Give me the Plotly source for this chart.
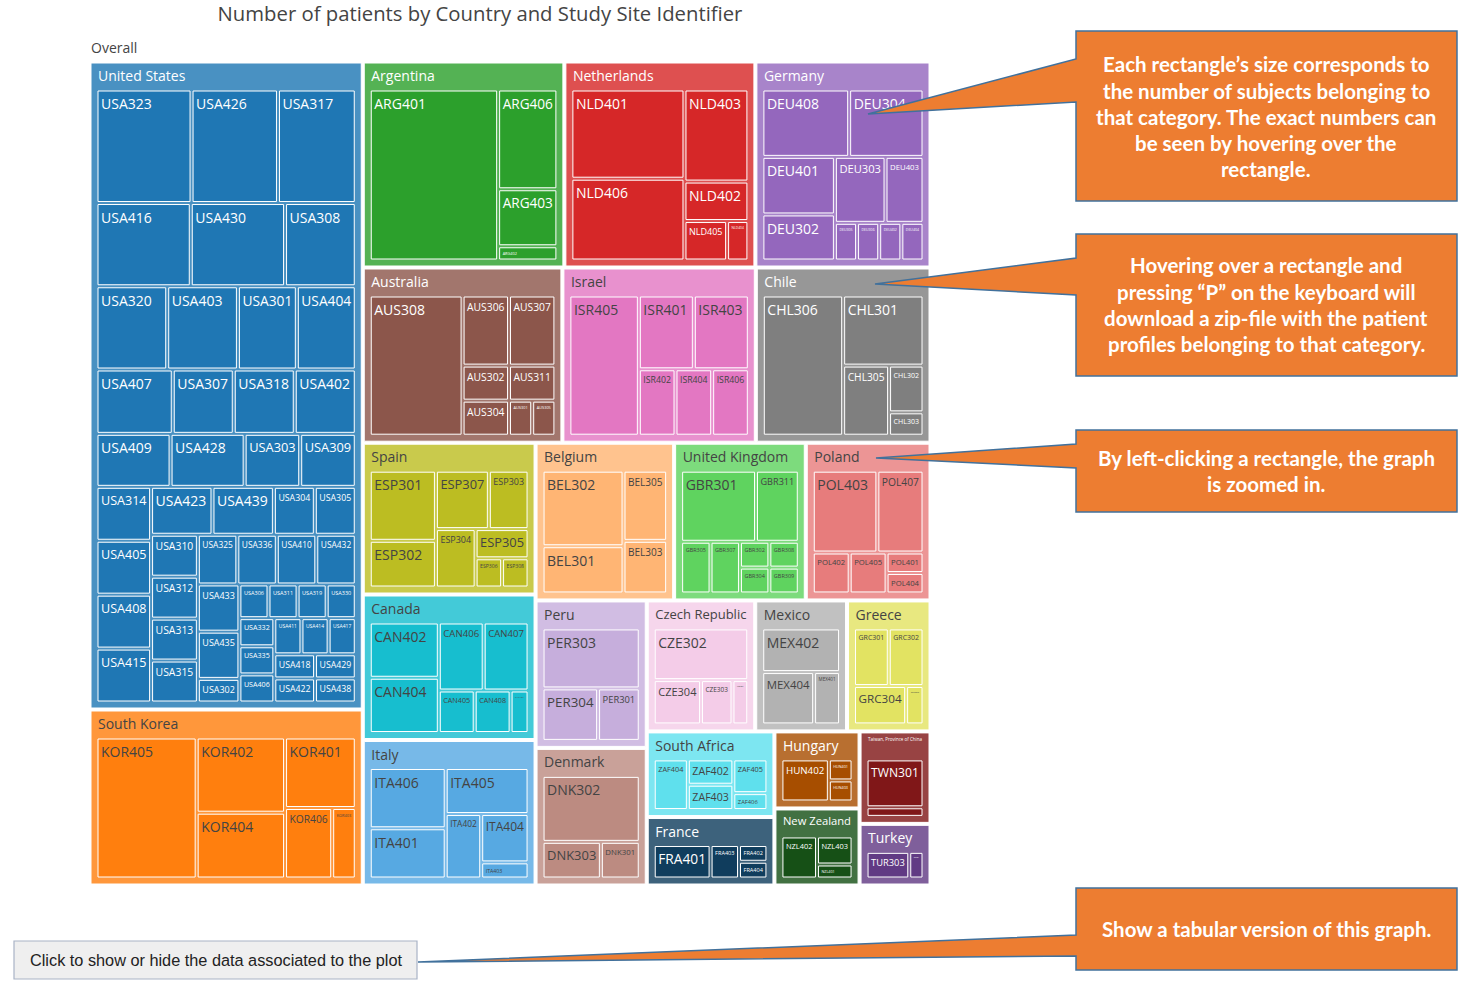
import plotly.graph_objects as go

# ---------------- data ----------------
root_label = "Overall"
countries = ["United States", "South Korea", "Argentina", "Netherlands", "Germany",
             "Australia", "Israel", "Chile", "Spain", "Canada", "Italy", "Belgium",
             "United Kingdom", "Poland", "Peru", "Denmark", "Czech Republic", "Mexico",
             "Greece", "South Africa", "France", "Hungary", "New Zealand",
             "Taiwan, Province of China", "Turkey"]

usa_sites = ["USA323", "USA426", "USA317", "USA416", "USA430", "USA308", "USA320", "USA403",
             "USA301", "USA404", "USA407", "USA307", "USA318", "USA402", "USA409", "USA428",
             "USA303", "USA309", "USA314", "USA405", "USA408", "USA415", "USA423", "USA439",
             "USA304", "USA305", "USA310", "USA312", "USA313", "USA315", "USA325", "USA336",
             "USA410", "USA432", "USA433", "USA435", "USA302", "USA306", "USA311", "USA319",
             "USA330", "USA332", "USA335", "USA406", "USA411", "USA414", "USA417", "USA418",
             "USA422", "USA429", "USA438"]
usa_n = [11, 10, 9, 8, 8, 6, 6, 6, 5, 5, 5, 4, 4, 4, 4, 4, 3, 3, 3, 3, 3, 3, 3, 3,
         2, 2, 2, 2, 2, 2, 2, 2, 2, 2, 2, 2, 1, 1, 1, 1, 1, 1, 1, 1, 1, 1, 1, 1, 1, 1, 1]
kor_sites = ["KOR405", "KOR402", "KOR404", "KOR401", "KOR406", "KOR403"]
kor_n = [17, 8, 7, 6, 4, 2]
arg_sites = ["ARG401", "ARG406", "ARG403", "ARG402"]
arg_n = [26, 7, 4, 1]
nld_sites = ["NLD401", "NLD406", "NLD403", "NLD402", "NLD405", "NLD404"]
nld_n = [12, 11, 7, 3, 2, 1]
deu_sites = ["DEU408", "DEU304", "DEU401", "DEU302", "DEU303", "DEU403",
             "DEU305", "DEU306", "DEU402", "DEU404"]
deu_n = [7, 6, 5, 4, 4, 3, 1, 1, 1, 1]
aus_sites = ["AUS308", "AUS306", "AUS307", "AUS302", "AUS304", "AUS311", "AUS301", "AUS305"]
aus_n = [16, 4, 4, 2, 2, 2, 1, 1]
isr_sites = ["ISR405", "ISR401", "ISR403", "ISR402", "ISR404", "ISR406"]
isr_n = [12, 5, 5, 3, 3, 3]
chl_sites = ["CHL306", "CHL301", "CHL305", "CHL302", "CHL303"]
chl_n = [14, 7, 4, 2, 1]
esp_sites = ["ESP301", "ESP302", "ESP307", "ESP303", "ESP304", "ESP305", "ESP306", "ESP308"]
esp_n = [6, 4, 4, 3, 3, 2, 1, 1]
can_sites = ["CAN402", "CAN404", "CAN406", "CAN407", "CAN405", "CAN408", "CAN401"]
can_n = [5, 5, 4, 4, 2, 2, 1]
ita_sites = ["ITA406", "ITA401", "ITA405", "ITA402", "ITA404", "ITA403"]
ita_n = [6, 5, 5, 3, 3, 1]
bel_sites = ["BEL302", "BEL301", "BEL305", "BEL303"]
bel_n = [8, 5, 4, 3]
gbr_sites = ["GBR301", "GBR311", "GBR305", "GBR307", "GBR302", "GBR304", "GBR308", "GBR309"]
gbr_n = [7, 4, 2, 2, 1, 1, 1, 1]
pol_sites = ["POL403", "POL407", "POL402", "POL405", "POL401", "POL404"]
pol_n = [7, 5, 2, 2, 1, 1]
per_sites = ["PER303", "PER304", "PER301"]
per_n = [8, 4, 3]
dnk_sites = ["DNK302", "DNK303", "DNK301"]
dnk_n = [9, 3, 2]
cze_sites = ["CZE302", "CZE304", "CZE303", "CZE301"]
cze_n = [7, 3, 2, 1]
mex_sites = ["MEX402", "MEX404", "MEX401"]
mex_n = [5, 4, 2]
grc_sites = ["GRC301", "GRC302", "GRC304", "GRC303"]
grc_n = [3, 3, 3, 1]
zaf_sites = ["ZAF404", "ZAF402", "ZAF403", "ZAF405", "ZAF406"]
zaf_n = [3, 2, 2, 2, 1]
fra_sites = ["FRA401", "FRA403", "FRA402", "FRA404"]
fra_n = [4, 2, 1, 1]
hun_sites = ["HUN402", "HUN401", "HUN403"]
hun_n = [4, 1, 1]
nzl_sites = ["NZL402", "NZL403", "NZL401"]
nzl_n = [3, 2, 1]
twn_sites = ["TWN301", "TWN304"]
twn_n = [5, 1]
tur_sites = ["TUR303", "TUR301"]
tur_n = [3, 1]

site_lists = [usa_sites, kor_sites, arg_sites, nld_sites, deu_sites, aus_sites, isr_sites,
              chl_sites, esp_sites, can_sites, ita_sites, bel_sites, gbr_sites, pol_sites,
              per_sites, dnk_sites, cze_sites, mex_sites, grc_sites, zaf_sites, fra_sites,
              hun_sites, nzl_sites, twn_sites, tur_sites]
count_lists = [usa_n, kor_n, arg_n, nld_n, deu_n, aus_n, isr_n, chl_n, esp_n, can_n, ita_n,
               bel_n, gbr_n, pol_n, per_n, dnk_n, cze_n, mex_n, grc_n, zaf_n, fra_n, hun_n,
               nzl_n, twn_n, tur_n]

labels, parents, values = [root_label], [""], [0]
for c, sites, ns in zip(countries, site_lists, count_lists):
    labels.append(c); parents.append(root_label); values.append(0)
    for s, n in zip(sites, ns):
        labels.append(s); parents.append(c); values.append(n)

# ---------------- figure ----------------
W, H = 1458, 993
ML, MT = 84, 35
PW, PH = 852, 856
MR, MB = W - ML - PW, H - MT - PH


def px(x):
    return (x - ML) / PW


def py(y):
    return 1 - (y - MT) / PH


D3 = ["#1f77b4", "#ff7f0e", "#2ca02c", "#d62728", "#9467bd",
      "#8c564b", "#e377c2", "#7f7f7f", "#bcbd22", "#17becf"]

fig = go.Figure(go.Treemap(
    labels=labels, parents=parents, values=values,
    branchvalues="remainder", sort=True,
    pathbar=dict(visible=False),
))

ORANGE = "#ed7d31"
BLUE = "#41719c"


def callout(x0, y0, x1, y1, wt, wb, tx, ty):
    pts = [(x0, y0), (x1, y0), (x1, y1), (x0, y1), (x0, wb), (tx, ty), (x0, wt)]
    d = "M " + " L ".join(f"{px(a):.5f},{py(b):.5f}" for a, b in pts) + " Z"
    return dict(type="path", xref="paper", yref="paper", path=d,
                fillcolor=ORANGE, line=dict(color=BLUE, width=1.5), layer="above")


shapes = [
    callout(1076, 31, 1457, 201, 59, 102, 868, 114),
    callout(1076, 234, 1457, 376, 258, 295, 875, 284),
    callout(1076, 430, 1457, 512, 444, 468, 876, 458),
    callout(1076, 888, 1457, 970, 935, 956, 418, 962),
    dict(type="rect", xref="paper", yref="paper", x0=px(14), x1=px(417), y0=py(941), y1=py(979),
         fillcolor="#efefef", line=dict(color="#a9b3c6", width=1.2), layer="above"),
]

box_lines = [
    ("Each rectangle\u2019s size corresponds to", 64),
    ("the number of subjects belonging to", 91),
    ("that category. The exact numbers can", 117),
    ("be seen by hovering over the", 143),
    ("rectangle.", 169),
    ("Hovering over a rectangle and", 265),
    ("pressing \u201cP\u201d on the keyboard will", 292),
    ("download a zip-file with the patient", 318),
    ("profiles belonging to that category.", 344),
    ("By left-clicking a rectangle, the graph", 458),
    ("is zoomed in.", 484),
    ("Show a tabular version of this graph.", 929),
]
annotations = [
    dict(text=f"<b>{t}</b>", x=px(1266), y=py(yy), xref="paper", yref="paper",
         showarrow=False, xanchor="center", yanchor="middle",
         font=dict(family="Lato", size=20.5, color="white"))
    for t, yy in box_lines
]
annotations.append(dict(text="Click to show or hide the data associated to the plot",
                        x=px(216), y=py(960), xref="paper", yref="paper", showarrow=False,
                        xanchor="center", yanchor="middle",
                        font=dict(family="Liberation Sans", size=16.3, color="#222")))

fig.update_layout(
    template="none",
    colorway=D3,
    width=W, height=H,
    margin=dict(l=ML, r=MR, t=MT, b=MB),
    paper_bgcolor="white",
    font=dict(family="Open Sans", size=14, color="#444"),
    title=dict(text="Number of patients by Country and Study Site Identifier",
               x=480 / W, xref="container", xanchor="center",
               y=1 - 14 / H, yref="container", yanchor="middle",
               font=dict(size=20.3, color="#444")),
    shapes=shapes,
    annotations=annotations,
)

fig.write_html("out.html", config={"displayModeBar": False},
               post_script="document.body.style.margin='0';")
